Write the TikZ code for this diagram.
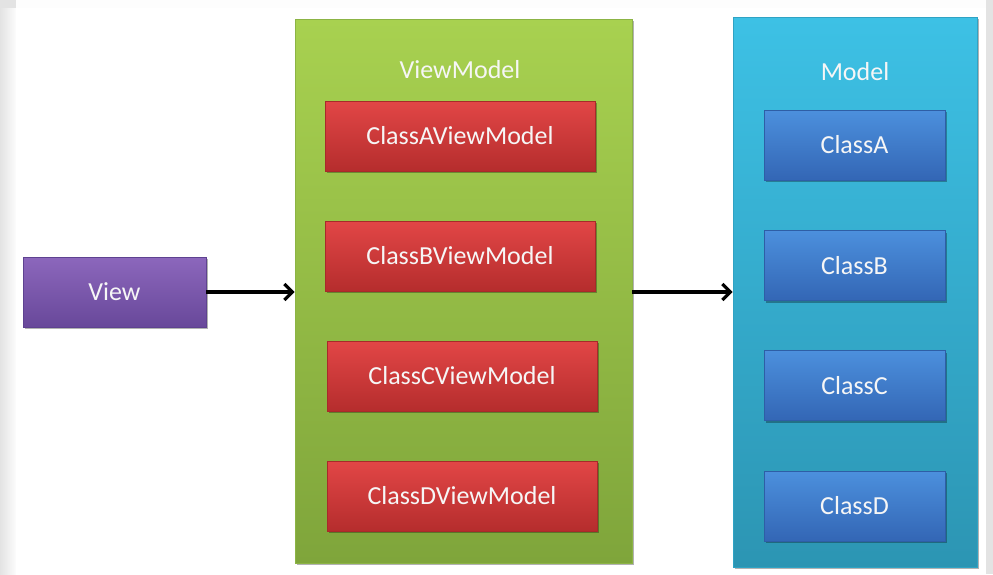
\documentclass[tikz,border=0pt]{standalone}
\usepackage{fontspec}
\setmainfont{Carlito}
\usetikzlibrary{arrows.meta,shadows}
\definecolor{bgGray}{HTML}{E3E3E3}
\definecolor{grnTop}{HTML}{A8D150}
\definecolor{grnBot}{HTML}{7FA53B}
\definecolor{grnEdge}{HTML}{8CB445}
\definecolor{bluTop}{HTML}{3DC1E5}
\definecolor{bluBot}{HTML}{2C95B3}
\definecolor{bluEdge}{HTML}{2FA3C4}
\definecolor{redTop}{HTML}{E24646}
\definecolor{redBot}{HTML}{B52D2D}
\definecolor{redEdge}{HTML}{A82A2A}
\definecolor{cbTop}{HTML}{4C90DD}
\definecolor{cbBot}{HTML}{3366B5}
\definecolor{cbEdge}{HTML}{2E5EA6}
\definecolor{vTop}{HTML}{8C67BC}
\definecolor{vBot}{HTML}{68489A}
\definecolor{vEdge}{HTML}{5E4290}
\definecolor{txt}{HTML}{F6F6F6}
\begin{document}
\begin{tikzpicture}[x=1pt,y=-1pt,
  boxbase/.style={rectangle, inner sep=0pt, line width=0.8pt, text=txt,
    font=\fontsize{26}{30}\selectfont,
    drop shadow={shadow xshift=1.5pt, shadow yshift=-2pt, opacity=0.3, fill=black}},
  greenpanel/.style={boxbase, draw=grnEdge, top color=grnTop, bottom color=grnBot},
  bluepanel/.style={boxbase, draw=bluEdge, top color=bluTop, bottom color=bluBot},
  redbox/.style={boxbase, draw=redEdge, top color=redTop, bottom color=redBot,
    minimum width=270pt, minimum height=70pt},
  bluebox/.style={boxbase, draw=cbEdge, top color=cbTop, bottom color=cbBot,
    minimum width=181pt, minimum height=70pt},
  viewbox/.style={boxbase, draw=vEdge, top color=vTop, bottom color=vBot,
    minimum width=183pt, minimum height=70pt},
  paneltitle/.style={text=txt, font=\fontsize{26}{30}\selectfont, inner sep=0pt},
  conn/.style={draw=black, line width=3.2pt,
    -{Straight Barb[length=8pt,width=16pt]}}
]
\useasboundingbox (0,0) rectangle (993,574);
% background
\fill[bgGray] (0,0) rectangle (993,574);
\shade[left color=bgGray, right color=white!90!bgGray] (0,8) rectangle (16,574);
\fill[white!92!bgGray] (16,0) rectangle (986,8);
\fill[white] (16,8) rectangle (986,574);

% panels
\node[greenpanel, minimum width=337pt, minimum height=544pt] (vm) at (463.5,291) {};
\node[bluepanel, minimum width=244pt, minimum height=550pt] (model) at (855,292) {};
\node[paneltitle] (vmtitle) at (460,70) {ViewModel};
\node[paneltitle] (mtitle) at (855,72) {Model};

% view
\node[viewbox] (view) at (114.5,292) {View};

% view model classes
\node[redbox] (cavm) at (460,136) {ClassAViewModel};
\node[redbox] (cbvm) at (460,256) {ClassBViewModel};
\node[redbox] (ccvm) at (462,376) {ClassCViewModel};
\node[redbox] (cdvm) at (462,496) {ClassDViewModel};

% model classes
\node[bluebox] (ca) at (854.5,145) {ClassA};
\node[bluebox] (cb) at (854.5,265.5) {ClassB};
\node[bluebox] (cc) at (854.5,385.5) {ClassC};
\node[bluebox] (cd) at (854.5,506) {ClassD};

% connectors
\draw[conn] (view.east) -- (view.east -| vm.west);
\draw[conn] (vm.east |- view.east) -- (view.east -| model.west);
\end{tikzpicture}
\end{document}
